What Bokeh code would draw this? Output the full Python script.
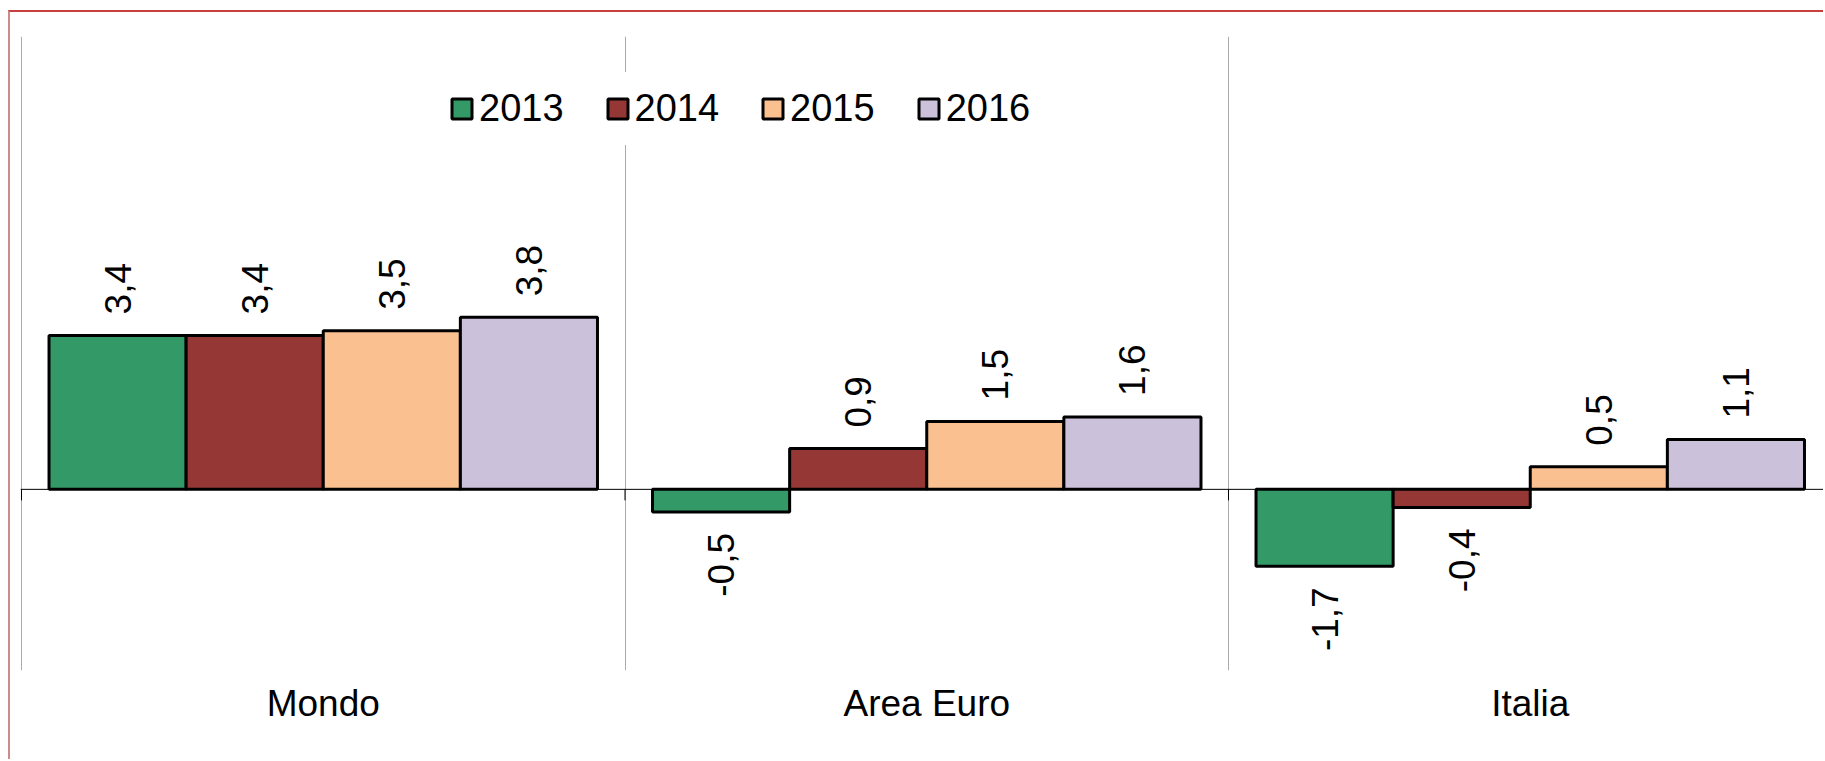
from bokeh.plotting import figure
from bokeh.models import (ColumnDataSource, Range1d, FixedTicker, LinearAxis,
                          Legend, LegendItem, Span, Grid)
from bokeh.core.properties import value
from bokeh.embed import file_html
from bokeh.resources import INLINE

# ---- data ----
categories = ["Mondo", "Area Euro", "Italia"]
years = ["2013", "2014", "2015", "2016"]
v2013 = [3.4, -0.5, -1.7]
v2014 = [3.4, 0.9, -0.4]
v2015 = [3.5, 1.5, 0.5]
v2016 = [3.8, 1.6, 1.1]
series = [v2013, v2014, v2015, v2016]
colors = ["#339966", "#953735", "#FAC090", "#CCC1DA"]

# ---- layout constants ----
OFF_X, OFF_Y = 10, 12          # page position of the canvas (inside red border)
W, H = 1825 - OFF_X, 761 - OFF_Y
FRAME_LEFT_PAGE, FRAME_TOP_PAGE, FRAME_BOTTOM_PAGE = 20, 36, 670
LEFT = FRAME_LEFT_PAGE - OFF_X
TOP = FRAME_TOP_PAGE - OFF_Y
BOTTOM = H - (FRAME_BOTTOM_PAGE - OFF_Y)
CAT_PX = 603.5
BAR_W = 0.2272
FONT = "Liberation Sans"
Y0, Y1 = -4, 10

frame_w = W - LEFT
frame_h = FRAME_BOTTOM_PAGE - FRAME_TOP_PAGE
x_start = -1.0 / CAT_PX
x_end = x_start + frame_w / CAT_PX
px_per_unit = frame_h / (Y1 - Y0)

p = figure(width=W, height=H, output_backend="svg", toolbar_location=None,
           x_range=Range1d(x_start, x_end), y_range=Range1d(Y0, Y1),
           min_border_left=LEFT, min_border_top=TOP, min_border_bottom=BOTTOM,
           min_border_right=0, x_axis_type=None, y_axis_type=None)
p.outline_line_color = None
p.background_fill_color = "white"
p.border_fill_color = "white"
p.ygrid.visible = False
p.styles = {"margin-left": f"{OFF_X - 2}px", "margin-top": f"{OFF_Y - 2}px",
            "border-top": "2px solid #C8403E",
            "border-left": "2px solid #CC8A88"}

# category axis (labels at bottom)
cat_axis = LinearAxis(ticker=FixedTicker(ticks=[i + 0.5 for i in range(len(categories))]),
                      major_label_overrides={i + 0.5: c for i, c in enumerate(categories)})
cat_axis.axis_line_color = None
cat_axis.major_tick_line_color = None
cat_axis.minor_tick_line_color = None
cat_axis.major_tick_out = 0
cat_axis.major_tick_in = 0
cat_axis.major_label_standoff = 12
cat_axis.major_label_text_font = FONT
cat_axis.major_label_text_font_size = "37px"
cat_axis.major_label_text_color = "black"
p.add_layout(cat_axis, "below")

# vertical gridlines at category boundaries
boundaries = list(range(len(categories) + 1))
vgrid = Grid(dimension=0, ticker=FixedTicker(ticks=boundaries),
             grid_line_color="#ABABAB", grid_line_width=1)
p.add_layout(vgrid)

# zero line and tick marks between categories
p.add_layout(Span(location=0, dimension="width", line_color="black", line_width=1))
tick_len = 11 / px_per_unit
p.segment(x0=boundaries, x1=boundaries, y0=[0] * len(boundaries),
          y1=[-tick_len] * len(boundaries), line_color="black", line_width=1)

items = []
for j, (yr, vals, col) in enumerate(zip(years, series, colors)):
    xs = [i + 0.5 + (j - 1.5) * BAR_W for i in range(len(categories))]
    src = ColumnDataSource(dict(x=xs, top=vals))
    r = p.vbar(x="x", top="top", bottom=0, width=BAR_W, source=src,
               fill_color=col, line_color="black", line_width=3)
    items.append(LegendItem(label=yr, renderers=[r]))

    pos = [(x, v, f"{v:.1f}".replace(".", ",")) for x, v in zip(xs, vals) if v >= 0]
    neg = [(x, v, f"{v:.1f}".replace(".", ",")) for x, v in zip(xs, vals) if v < 0]
    if pos:
        ps = ColumnDataSource(dict(x=[a[0] for a in pos], y=[a[1] for a in pos],
                                   t=[a[2] for a in pos]))
        p.text(x="x", y="y", text="t", source=ps, angle=1.5707963,
               text_align="left", text_baseline="middle", y_offset=-21,
               text_font=value(FONT), text_font_size="37px", text_color="black")
    if neg:
        ns = ColumnDataSource(dict(x=[a[0] for a in neg], y=[a[1] for a in neg],
                                   t=[a[2] for a in neg]))
        p.text(x="x", y="y", text="t", source=ns, angle=1.5707963,
               text_align="right", text_baseline="middle", y_offset=21,
               text_font=value(FONT), text_font_size="37px", text_color="black")

legend = Legend(items=items, orientation="horizontal", location=(414, 525))
legend.label_text_font = FONT
legend.label_text_font_size = "38px"
legend.label_text_color = "black"
legend.glyph_width = 25
legend.glyph_height = 25
legend.label_standoff = 5
legend.spacing = 41
legend.padding = 15
legend.margin = 0
legend.border_line_alpha = 0
legend.background_fill_color = "white"
legend.background_fill_alpha = 1
p.add_layout(legend, "center")

open("out.html", "w").write(file_html(p, INLINE))
